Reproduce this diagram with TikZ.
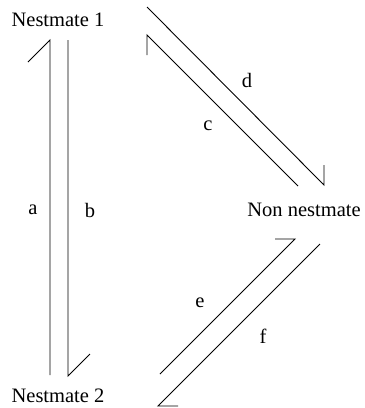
\documentclass[tikz,border=0pt]{standalone}
\usepackage{fontspec}
\setmainfont{Liberation Serif}
\begin{document}
\begin{tikzpicture}[x=1pt,y=-1pt,
  arr/.style={line width=0.9pt,line join=miter},
  lbl/.style={inner sep=0pt,font=\fontsize{20.5}{24}\selectfont}]
\useasboundingbox (0,0) rectangle (365,408);
% nodes
\node[lbl] (n1) at (58,20) {Nestmate 1};
\node[lbl] (n2) at (58,396) {Nestmate 2};
\node[lbl] (nn) at (304,210) {Non nestmate};
% arrow end points
\coordinate (a0) at (50,375); \coordinate (a1) at (50,40);
\coordinate (b0) at (68,40);  \coordinate (b1) at (68,376);
\coordinate (c0) at (298,186); \coordinate (c1) at (147,35);
\coordinate (d0) at (147,7);  \coordinate (d1) at (324,185);
\coordinate (e0) at (160,374); \coordinate (e1) at (295,239);
\coordinate (f0) at (320,244); \coordinate (f1) at (158,406);
% arrows with half heads
\draw[arr] (a0) -- (a1) -- ++(-22,22);
\draw[arr] (b0) -- (b1) -- ++(22,-22);
\draw[arr] (c0) -- (c1) -- ++(0,20);
\draw[arr] (d0) -- (d1) -- ++(0,-20);
\draw[arr] (e0) -- (e1) -- ++(-20,0);
\draw[arr] (f0) -- (f1) -- ++(20,0);
% labels
\node[lbl] (la) at (33,210) {a};
\node[lbl] (lb) at (90,210) {b};
\node[lbl] (lc) at (208,126) {c};
\node[lbl] (ld) at (247,80) {d};
\node[lbl] (le) at (200,303) {e};
\node[lbl] (lf) at (263,336) {f};
\end{tikzpicture}
\end{document}
